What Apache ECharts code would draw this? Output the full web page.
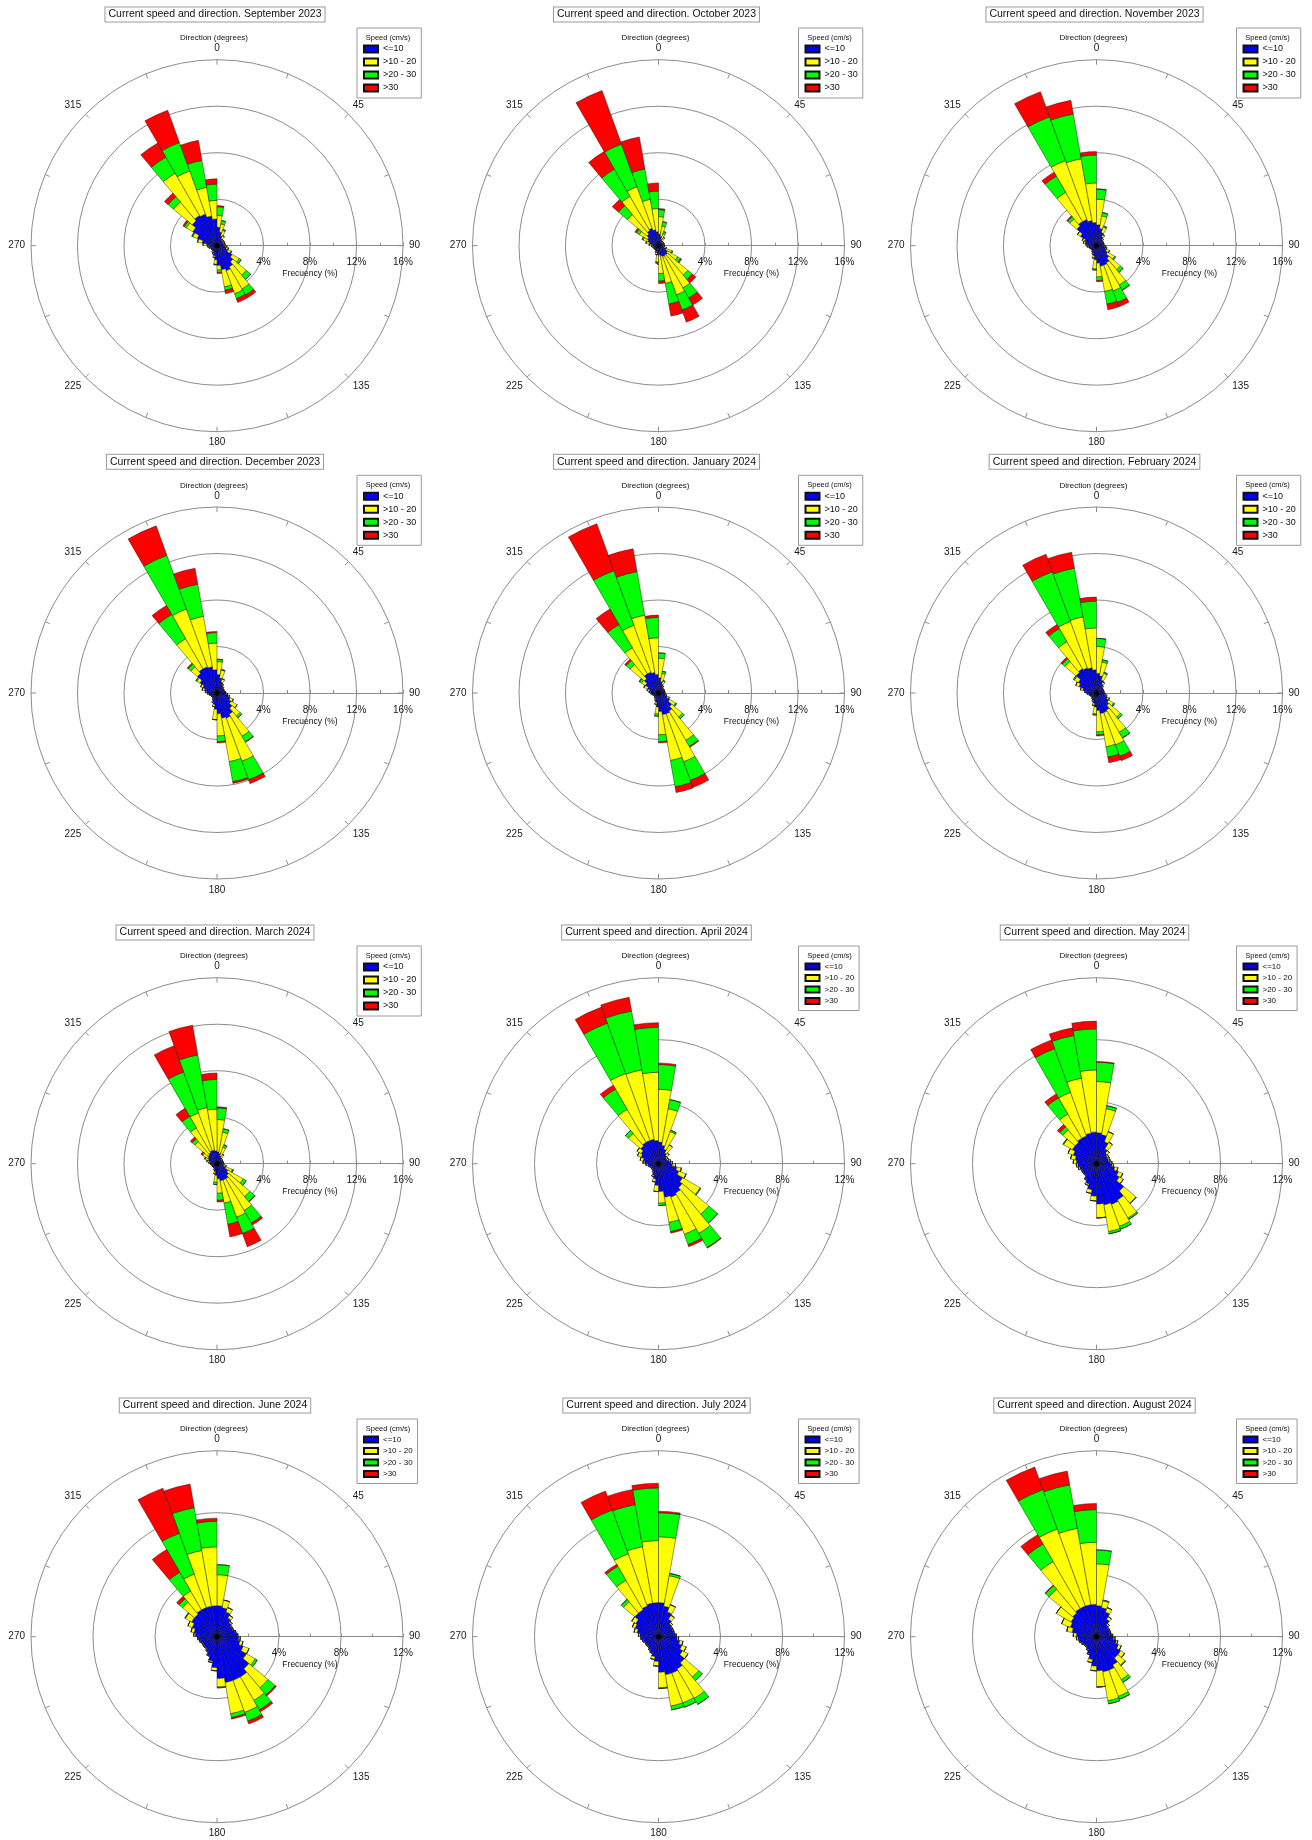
<!DOCTYPE html>
<html><head><meta charset="utf-8">
<script src="https://cdn.jsdelivr.net/npm/echarts@6/dist/echarts.min.js"></script>
<style>html,body{margin:0;padding:0;background:#fff}#c{width:1312px;height:1840px}</style>
</head><body><div id="c"></div>
<script>
// ---------- categories / labels ----------
const sectorLabels = Array.from({length: 36}, (_, i) => (i * 10) + '-' + (i * 10 + 10));
const speedClasses = ['<=10', '>10 - 20', '>20 - 30', '>30'];
const classColors = ['#0000ff', '#ffff00', '#00ff00', '#ff0000'];
const monthNames = ['September 2023','October 2023','November 2023','December 2023','January 2024','February 2024',
  'March 2024','April 2024','May 2024','June 2024','July 2024','August 2024'];
const scaleMax = [16,16,16,16,16,16,16,12,12,12,12,12];
const directionTicks = [0,45,90,135,180,225,270,315];

// ---------- data: frequency (%) per 10° sector (0-10, 10-20, ... 350-360) ----------
const sep23_b = [1.6,1.2,0.9,0.7,0.6,0.6,0.6,0.6,0.6,0.7, 0.8,1.0,1.5,1.8,2.1,2.3,2.1,1.7,1.2,0.9, 0.7,0.6,0.5,0.5,0.5,0.6,0.7,0.9,1.3,1.8, 2.4,2.8,3.0,2.9,2.6,2.3];
const sep23_y = [1.0,0.7,0.5,0.3,0.1,0.1,0.1,0.1,0.1,0.15, 0.2,0.3,0.7,1.5,2.2,2.1,1.5,0.4,0.4,0.15, 0.1,0.1,0.05,0.05,0.05,0.1,0.1,0.3,0.4,0.4, 0.65,2.1,4.2,3.95,2.5,1.6];
const sep23_g = [0.75,0.3,0.1,0,0,0,0,0,0,0, 0,0.05,0.2,0.5,0.6,0.45,0.3,0.2,0.05,0, 0,0,0,0,0,0,0,0,0,0.1, 0.2,0.6,1.6,2.6,2.35,1.4];
const sep23_r = [0.1,0,0,0,0,0,0,0,0,0, 0,0,0,0,0.3,0.35,0.3,0.1,0,0, 0,0,0,0,0,0,0,0,0,0, 0.15,0.4,1.4,2.95,1.75,0.45];

const oct23_b = [1.0,0.8,0.6,0.5,0.4,0.4,0.4,0.4,0.4,0.4, 0.5,0.7,0.9,1.0,1.0,1.0,0.9,0.8,0.8,0.6, 0.5,0.4,0.4,0.4,0.4,0.4,0.5,0.6,0.8,1.0, 1.1,1.3,1.5,1.6,1.4,1.2];
const oct23_y = [1.5,0.9,0.5,0.3,0.1,0.1,0.1,0.1,0.1,0.1, 0.2,0.5,1.0,2.3,3.2,3.5,2.4,1.6,0.6,0.2, 0.1,0.05,0.05,0.05,0.05,0.1,0.1,0.2,0.3,0.4, 0.8,2.2,3.4,3.8,2.65,2.0];
const oct23_g = [0.6,0.4,0.2,0.05,0,0,0,0,0,0, 0,0.1,0.3,0.5,1.0,1.4,1.8,0.65,0.1,0, 0,0,0,0,0,0,0,0,0,0.1, 0.3,1.0,2.7,3.9,2.65,1.5];
const oct23_r = [0.1,0,0,0,0,0,0,0,0,0, 0,0,0.1,0.4,0.7,1.1,1.05,0.2,0,0, 0,0,0,0,0,0,0,0,0,0, 0.15,0.7,1.75,4.9,2.8,0.7];

const nov23_b = [1.8,1.5,1.2,0.9,0.7,0.6,0.6,0.6,0.6,0.7, 0.8,0.9,1.1,1.4,1.7,1.8,1.8,1.5,1.2,0.9, 0.7,0.6,0.5,0.5,0.5,0.6,0.7,0.8,1.0,1.1, 1.6,2.2,2.4,2.4,2.2,2.0];
const nov23_y = [2.2,1.1,0.5,0.2,0.1,0.05,0.05,0.05,0.05,0.1, 0.1,0.3,0.7,1.3,2.2,2.35,2.2,1.2,0.8,0.2, 0.1,0.05,0.05,0.05,0.05,0.05,0.1,0.1,0.15,0.2, 0.3,0.8,2.9,5.4,5.4,3.4];
const nov23_g = [0.85,0.3,0.1,0,0,0,0,0,0,0, 0,0,0.1,0.3,0.5,1.05,1.1,0.3,0.1,0, 0,0,0,0,0,0,0,0,0,0, 0,0.25,1.6,4.0,3.9,2.4];
const nov23_r = [0.05,0,0,0,0,0,0,0,0,0, 0,0,0,0,0.05,0.4,0.5,0.1,0,0, 0,0,0,0,0,0,0,0,0,0, 0,0.1,0.4,2.3,1.2,0.3];

const dec23_b = [1.6,1.3,1.0,0.8,0.7,0.6,0.6,0.6,0.7,0.8, 1.0,1.2,1.4,1.7,2.1,2.3,2.2,1.8,1.4,1.0, 0.8,0.6,0.5,0.5,0.5,0.6,0.7,0.9,1.1,1.3, 1.7,2.2,2.4,2.4,2.3,2.0];
const dec23_y = [1.1,0.7,0.3,0.1,0.05,0.05,0.05,0.05,0.05,0.1, 0.1,0.3,0.6,0.9,2.2,3.95,3.8,1.9,0.9,0.2, 0.1,0.05,0.05,0.05,0.05,0.05,0.1,0.1,0.2,0.2, 0.3,0.75,3.0,5.3,4.4,2.3];
const dec23_g = [0.2,0.05,0,0,0,0,0,0,0,0, 0,0,0,0.2,0.55,1.7,1.75,0.5,0,0, 0,0,0,0,0,0,0,0,0,0, 0.1,0.3,2.4,4.9,2.8,0.9];
const dec23_r = [0,0,0,0,0,0,0,0,0,0, 0,0,0,0,0.05,0.35,0.15,0.1,0,0, 0,0,0,0,0,0,0,0,0,0, 0,0.1,0.9,2.7,1.4,0.1];

const jan24_b = [1.3,1.0,0.8,0.6,0.5,0.5,0.5,0.5,0.5,0.5, 0.6,0.8,1.1,1.5,1.8,1.9,1.9,1.6,1.2,0.8, 0.6,0.5,0.4,0.4,0.4,0.5,0.6,0.7,0.8,1.0, 1.3,1.6,1.9,1.9,1.8,1.6];
const jan24_y = [1.7,0.7,0.3,0.1,0.05,0.05,0.05,0.05,0.05,0.05, 0.1,0.2,0.6,1.2,2.9,4.4,4.0,2.0,0.6,0.2, 0.1,0.05,0.05,0.05,0.05,0.05,0.05,0.1,0.2,0.3, 0.4,1.6,2.6,4.3,5.0,3.15];
const jan24_g = [0.45,0.2,0.05,0,0,0,0,0,0,0, 0,0,0.1,0.2,0.6,1.7,2.3,0.6,0.2,0, 0,0,0,0,0,0,0,0,0,0.05, 0.2,0.45,2.3,5.0,3.8,1.75];
const jan24_r = [0,0,0,0,0,0,0,0,0,0, 0,0,0,0,0.1,0.65,0.5,0.1,0,0, 0,0,0,0,0,0,0,0,0,0, 0.05,0.15,1.55,4.3,2.0,0.2];

const feb24_b = [1.7,1.5,1.2,0.9,0.7,0.6,0.6,0.6,0.6,0.7, 0.8,1.0,1.2,1.4,1.7,1.8,1.8,1.5,1.2,0.9, 0.7,0.6,0.5,0.5,0.5,0.6,0.7,0.9,1.2,1.6, 1.8,2.3,2.4,2.3,2.2,2.0];
const feb24_y = [2.3,1.2,0.6,0.2,0.1,0.05,0.05,0.05,0.05,0.05, 0.1,0.2,0.5,1.3,2.2,2.95,2.9,1.85,0.6,0.2, 0.1,0.05,0.05,0.05,0.05,0.05,0.1,0.1,0.2,0.3, 0.4,1.25,2.7,4.25,4.45,3.6];
const feb24_g = [0.7,0.2,0.1,0,0,0,0,0,0,0, 0,0,0.1,0.2,0.55,1.05,0.9,0.25,0.1,0, 0,0,0,0,0,0,0,0,0,0, 0.1,0.3,1.3,4.55,4.25,2.3];
const feb24_r = [0,0,0,0,0,0,0,0,0,0, 0,0,0,0,0.05,0.4,0.5,0.1,0,0, 0,0,0,0,0,0,0,0,0,0, 0,0.15,0.4,1.6,1.4,0.35];

const mar24_b = [1.0,0.9,0.7,0.6,0.5,0.5,0.5,0.5,0.5,0.5, 0.6,0.8,1.1,1.3,1.5,1.5,1.5,1.3,1.0,0.7, 0.5,0.4,0.4,0.4,0.4,0.4,0.5,0.6,0.7,0.8, 0.9,1.0,1.1,1.2,1.2,1.1];
const mar24_y = [2.8,1.85,0.8,0.3,0.1,0.05,0.05,0.05,0.05,0.1, 0.2,0.6,1.5,2.4,3.15,3.4,1.95,1.25,0.6,0.2, 0.1,0.05,0.05,0.05,0.05,0.05,0.05,0.1,0.2,0.3, 0.5,1.5,2.45,3.45,3.7,3.6];
const mar24_g = [1.0,0.3,0.2,0.05,0,0,0,0,0,0, 0,0.1,0.3,0.55,1.25,1.5,1.85,0.6,0.2,0, 0,0,0,0,0,0,0,0,0,0.05, 0.1,0.3,1.15,3.75,4.6,2.55];
const mar24_r = [0.1,0,0.05,0,0,0,0,0,0,0, 0,0,0,0.05,0.2,1.2,1.1,0.15,0,0, 0,0,0,0,0,0,0,0,0,0, 0.1,0.2,0.8,2.4,2.6,0.55];

const apr24_b = [1.4,1.2,1.0,0.8,0.7,0.6,0.6,0.7,0.8,0.9, 1.2,1.4,1.8,2.0,2.2,2.3,2.2,1.8,1.4,1.0, 0.8,0.6,0.5,0.5,0.5,0.6,0.7,0.9,1.0,1.2, 1.3,1.5,1.6,1.6,1.6,1.5];
const apr24_y = [3.4,2.4,1.2,0.6,0.2,0.1,0.1,0.1,0.1,0.2, 0.3,0.5,1.3,2.25,3.0,2.55,1.65,0.75,0.4,0.2, 0.1,0.05,0.05,0.05,0.05,0.05,0.1,0.1,0.2,0.25, 0.3,1.05,2.45,4.6,4.55,4.4];
const apr24_g = [1.6,0.6,0.1,0,0,0,0,0,0,0, 0,0,0.05,0.75,1.05,0.7,0.6,0.15,0,0, 0,0,0,0,0,0,0,0,0,0, 0,0.25,1.5,3.45,3.85,2.9];
const apr24_r = [0.1,0,0,0,0,0,0,0,0,0, 0,0,0,0,0.05,0.15,0.1,0,0,0, 0,0,0,0,0,0,0,0,0,0, 0,0,0.3,1.1,0.9,0.3];

const may24_b = [2.0,1.9,1.5,1.1,0.9,0.8,0.8,0.8,0.9,1.0, 1.2,1.5,1.7,2.3,2.7,2.8,2.7,2.6,2.1,1.7, 1.4,1.2,1.0,1.0,1.0,1.1,1.2,1.3,1.4,1.6, 1.8,1.8,1.9,1.9,2.0,2.05];
const may24_y = [3.3,1.7,0.7,0.5,0.2,0.1,0.1,0.1,0.1,0.1, 0.2,0.3,0.3,1.05,1.35,1.5,1.75,0.9,0.3,0.25, 0.1,0.05,0.05,0.05,0.05,0.1,0.1,0.2,0.3,0.35, 0.65,1.05,1.8,3.0,3.6,4.0];
const may24_g = [1.25,0.2,0,0,0,0,0,0,0,0, 0,0,0,0,0.1,0.2,0.15,0,0,0, 0,0,0,0,0,0,0,0,0,0, 0.05,0.25,1.2,3.0,2.8,2.65];
const may24_r = [0.05,0,0,0,0,0,0,0,0,0, 0,0,0,0,0,0,0,0,0,0, 0,0,0,0,0,0,0,0,0,0, 0,0.2,0.3,0.6,0.5,0.5];

const jun24_b = [2.0,1.9,1.7,1.4,1.2,1.1,1.1,1.2,1.3,1.4, 1.5,1.8,2.2,2.7,3.0,3.0,3.0,2.7,2.0,1.6, 1.3,1.1,1.0,1.0,1.0,1.1,1.2,1.4,1.5,1.7, 1.9,1.9,2.0,2.0,2.0,2.0];
const jun24_y = [2.0,0.5,0.3,0.2,0.1,0.05,0.05,0.05,0.05,0.1, 0.2,0.4,0.65,1.6,1.75,2.2,2.05,0.55,0.2,0.1, 0.05,0.05,0.05,0.05,0.05,0.05,0.05,0.1,0.2,0.3, 0.45,1.0,1.4,2.3,3.65,3.8];
const jun24_g = [0.65,0,0,0,0,0,0,0,0,0, 0,0,0.15,0.6,0.7,0.6,0.25,0.05,0,0, 0,0,0,0,0,0,0,0,0,0, 0.05,0.3,1.4,2.8,2.8,1.65];
const jun24_r = [0,0,0,0,0,0,0,0,0,0, 0,0,0,0.1,0.15,0.2,0.1,0,0,0, 0,0,0,0,0,0,0,0,0,0, 0,0.2,1.7,3.1,1.55,0.2];

const jul24_b = [2.2,2.0,1.7,1.3,1.1,1.0,1.0,1.0,1.1,1.2, 1.4,1.6,1.8,2.2,2.4,2.5,2.5,2.3,1.6,1.3, 1.1,1.0,0.9,0.9,0.9,1.0,1.1,1.2,1.4,1.6, 1.7,2.0,2.0,2.1,2.2,2.2];
const jul24_y = [4.25,2.0,0.5,0.3,0.1,0.05,0.05,0.05,0.05,0.1, 0.2,0.3,0.4,1.2,2.2,2.05,2.05,1.0,0.3,0.2, 0.05,0.05,0.05,0.05,0.05,0.05,0.05,0.1,0.2,0.2, 0.3,0.95,2.2,3.6,3.7,4.0];
const jul24_g = [1.55,0.15,0,0,0,0,0,0,0,0, 0,0,0,0.3,0.45,0.3,0.25,0.05,0,0, 0,0,0,0,0,0,0,0,0,0, 0,0.2,1.05,3.0,2.75,3.4];
const jul24_r = [0.1,0,0,0,0,0,0,0,0,0, 0,0,0,0,0,0,0,0,0,0, 0,0,0,0,0,0,0,0,0,0, 0,0,0.15,1.3,1.0,0.3];

const aug24_b = [2.0,1.9,1.7,1.3,1.0,0.9,0.9,0.9,1.0,1.1, 1.3,1.5,1.8,1.8,2.1,2.3,2.3,2.2,1.9,1.5, 1.2,1.0,0.9,0.9,1.0,1.1,1.2,1.3,1.6,1.8, 1.9,2.0,2.1,2.1,2.1,2.1];
const aug24_y = [2.7,0.45,0.3,0.2,0.1,0.05,0.05,0.05,0.05,0.1, 0.1,0.2,0.3,0.6,1.1,1.8,1.9,1.05,0.3,0.2, 0.05,0.05,0.05,0.05,0.05,0.05,0.1,0.2,0.35,0.6, 1.1,2.0,3.5,5.3,5.0,4.0];
const aug24_g = [0.9,0.05,0,0,0,0,0,0,0,0, 0,0,0,0.05,0.2,0.2,0.2,0,0,0, 0,0,0,0,0,0,0,0,0,0, 0,0.3,1.3,2.7,2.85,2.1];
const aug24_r = [0,0,0,0,0,0,0,0,0,0, 0,0,0,0,0,0,0,0,0,0, 0,0,0,0,0,0,0,0,0,0, 0,0.05,0.7,1.55,0.9,0.4];

const panelData = [
  [sep23_b, sep23_y, sep23_g, sep23_r], [oct23_b, oct23_y, oct23_g, oct23_r], [nov23_b, nov23_y, nov23_g, nov23_r],
  [dec23_b, dec23_y, dec23_g, dec23_r], [jan24_b, jan24_y, jan24_g, jan24_r], [feb24_b, feb24_y, feb24_g, feb24_r],
  [mar24_b, mar24_y, mar24_g, mar24_r], [apr24_b, apr24_y, apr24_g, apr24_r], [may24_b, may24_y, may24_g, may24_r],
  [jun24_b, jun24_y, jun24_g, jun24_r], [jul24_b, jul24_y, jul24_g, jul24_r], [aug24_b, aug24_y, aug24_g, aug24_r]
];

// ---------- layout ----------
const FONT = '"Liberation Sans", Arial, Helvetica, sans-serif';
const colX = [217, 658.5, 1096.5];
const rowY = [245.7, 693, 1163.7, 1636.7];
const R = 186;
const GRID = '#8c8c8c';

function angleLabel(v) {
  if (v >= 450) return '';
  const d = ((v % 360) + 360) % 360;
  return directionTicks.indexOf(d) >= 0 ? String(d) : '';
}

const option = {
  animation: false,
  backgroundColor: '#fff',
  textStyle: { fontFamily: FONT },
  polar: [], angleAxis: [], radiusAxis: [], series: [], legend: [], graphic: []
};

for (let k = 0; k < 12; k++) {
  const cx = colX[k % 3], cy = rowY[Math.floor(k / 3)], M = scaleMax[k];
  const small = M === 12;
  const gi = 2 * k, bi = 2 * k + 1;
  option.polar.push({ center: [cx, cy], radius: R });
  option.polar.push({ center: [cx, cy], radius: R });

  option.angleAxis.push({
    polarIndex: gi, type: 'value', min: 90, max: 450, interval: 22.5, startAngle: 0, clockwise: true,
    axisLine: { show: false },
    axisTick: { show: true, inside: true, length: 5, lineStyle: { color: GRID } },
    axisLabel: { show: true, margin: 6, fontSize: 10, color: '#1a1a1a', fontFamily: FONT, formatter: angleLabel },
    splitLine: { show: false }
  });
  option.angleAxis.push({
    polarIndex: bi, type: 'category', data: sectorLabels, startAngle: 90, clockwise: true, boundaryGap: true,
    axisLine: { show: false }, axisTick: { show: false }, axisLabel: { show: false }, splitLine: { show: false }
  });
  option.radiusAxis.push({
    polarIndex: gi, type: 'value', min: 0, max: M, interval: 4,
    axisLine: { show: true, lineStyle: { color: GRID } },
    axisTick: { show: true, length: 3, lineStyle: { color: GRID } },
    minorTick: { show: true, splitNumber: 2, length: 3, lineStyle: { color: GRID } },
    axisLabel: { show: true, fontSize: 10, color: '#1a1a1a', margin: -17, verticalAlign: 'middle', fontFamily: FONT,
      formatter: v => (v === 0 ? '0' : v + '%') },
    splitLine: { show: true, lineStyle: { color: GRID, width: 1 } }
  });
  option.radiusAxis.push({
    polarIndex: bi, type: 'value', min: 0, max: M,
    axisLine: { show: false }, axisTick: { show: false }, axisLabel: { show: false }, splitLine: { show: false }
  });

  speedClasses.forEach((name, c) => {
    option.series.push({
      type: 'bar', coordinateSystem: 'polar', polarIndex: bi, name: name, stack: 'rose' + k,
      data: panelData[k][c], barCategoryGap: '0%', silent: true, z: 3,
      itemStyle: { color: classColors[c], borderColor: '#111', borderWidth: 0.45 },
      emphasis: { disabled: true }
    });
  });
  option.series.push({
    type: 'scatter', coordinateSystem: 'polar', polarIndex: gi, data: [[0, 90]], symbolSize: 5,
    itemStyle: { color: '#000' }, silent: true, z: 6
  });

  option.legend.push({
    data: speedClasses, orient: 'vertical', left: cx + 140, top: cy - 217.7,
    icon: 'rect', itemWidth: 14, itemHeight: small ? 6 : 7, itemGap: small ? 3.5 : 4, itemTextGap: 3,
    textStyle: { fontSize: small ? 8 : 9, lineHeight: small ? 8 : 9, color: '#111', fontFamily: FONT },
    borderColor: '#9a9a9a', borderWidth: 1, backgroundColor: '#fff',
    padding: [16.5, 5, 5.5, 6], selectedMode: false
  });

  const txt = (x, y, text, size, extra) => Object.assign({
    type: 'text', x: x, y: y, z: 20, silent: true,
    style: Object.assign({ text: text, font: size + 'px ' + FONT, fill: '#111',
      align: 'center', verticalAlign: 'middle', textAlign: 'center', textVerticalAlign: 'middle' }, extra || {})
  });
  option.graphic.push(txt(cx - 2, cy - 231.2, 'Current speed and direction. ' + monthNames[k], 10.5,
    { borderColor: '#9a9a9a', borderWidth: 1, padding: [2, 3, 1, 3], backgroundColor: '#fff' }));
  option.graphic.push(txt(cx - 3, cy - 207.7, 'Direction (degrees)', 8));
  option.graphic.push(txt(cx + 93, cy + 28.3, 'Frecuency (%)', 8.5));
  option.graphic.push(txt(cx + 171, cy - 207.7, 'Speed (cm/s)', 7.5));
}

const chart = echarts.init(document.getElementById('c'), null, { renderer: 'canvas' });
chart.setOption(option);
</script>
</body></html>
